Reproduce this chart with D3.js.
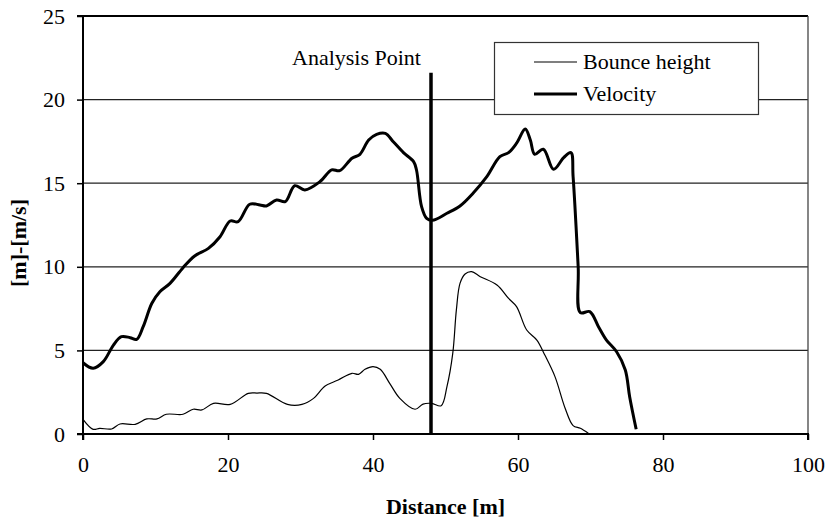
<!DOCTYPE html>
<html><head><meta charset="utf-8">
<script src="https://cdn.jsdelivr.net/npm/d3@7"></script>
<style>body{margin:0;background:#fff}svg{display:block}svg text{font-family:'Liberation Serif',Tinos,'Times New Roman',Times,'DejaVu Serif',serif !important;fill:#000}</style>
</head><body><svg id="c" width="830" height="525"></svg>
<script>
const velocityX = [0,1.4,2.8,4.2,5.3,6.5,7.4,8.3,9.5,10.6,12.0,13.8,15.4,17.3,18.9,20.3,21.4,23.0,24.4,25.3,26.7,27.9,29.2,30.6,32.7,34.3,35.4,37.1,38.2,39.4,40.5,41.7,42.8,44.2,45.6,46.0,46.7,47.4,48.2,50.2,52.0,53.8,55.7,57.5,58.7,59.8,61.0,61.7,62.3,63.5,64.9,66.3,67.3,67.6,68.3,68.6,69.9,71.1,72.2,73.6,74.8,75.4,76.3];
const velocityY = [4.26,3.93,4.33,5.32,5.82,5.76,5.66,6.42,7.82,8.51,9.01,9.95,10.65,11.1,11.8,12.74,12.7,13.74,13.7,13.64,14.0,13.9,14.85,14.6,15.1,15.8,15.75,16.49,16.73,17.58,17.92,17.98,17.48,16.83,16.29,15.79,13.6,12.9,12.78,13.2,13.64,14.4,15.39,16.59,16.83,17.39,18.24,17.58,16.73,17.03,15.83,16.53,16.83,15.39,10.0,7.26,7.32,6.42,5.62,4.92,3.83,2.23,0.28];
const bounceX = [0,1.4,2.3,3.95,5.1,7.2,8.8,10.2,11.5,13.8,15.2,16.4,18.0,20.3,22.8,24.0,25.3,28.2,30.2,31.8,33.4,35.2,37.1,38.0,38.9,40.0,41.0,42.3,43.7,45.8,46.9,48.1,49.4,50.2,51.0,51.5,52.0,52.7,53.6,54.8,57.1,58.7,59.8,61.2,62.6,63.7,65.1,66.5,67.6,68.6,69.7];
const bounceY = [0.88,0.28,0.34,0.30,0.6,0.58,0.9,0.9,1.18,1.18,1.48,1.44,1.83,1.77,2.43,2.45,2.43,1.77,1.77,2.13,2.87,3.23,3.63,3.57,3.87,4.03,3.87,3.03,2.13,1.48,1.79,1.83,1.69,2.83,4.82,7.42,9.01,9.57,9.71,9.41,8.91,8.11,7.62,6.22,5.62,4.72,3.43,1.54,0.5,0.34,0.04];
const xTicks = [0,20,40,60,80,100];
const yTicks = [0,5,10,15,20,25];
const seriesNames = ["Bounce height","Velocity"];
const analysisX = 48;
const analysisTop = 21.6;

const FONT = "'Liberation Serif',Tinos,'Times New Roman',Times,'DejaVu Serif',serif";
const svg = d3.select("#c");
const L=83,R=808,T=16,B=434;
const x = d3.scaleLinear().domain([0,100]).range([L,R]);
const y = d3.scaleLinear().domain([0,25]).range([B,T]);

svg.append("g").selectAll("line").data(yTicks.filter(d=>d>0)).join("line")
  .attr("x1",L).attr("x2",R).attr("y1",d=>y(d)).attr("y2",d=>y(d))
  .attr("stroke",d=>d===25?"#000":"#222").attr("stroke-width",d=>d===25?2:1.2);
svg.append("line").attr("x1",R).attr("x2",R).attr("y1",T).attr("y2",B).attr("stroke","#444").attr("stroke-width",1.3);

const yAxis = svg.append("g").attr("transform",`translate(${L},0)`)
  .call(d3.axisLeft(y).tickValues(yTicks).tickSize(6).tickPadding(12).tickFormat(d3.format("d")));
const xAxis = svg.append("g").attr("transform",`translate(0,${B})`)
  .call(d3.axisBottom(x).tickValues(xTicks).tickSize(6).tickPadding(16).tickFormat(d3.format("d")));
[yAxis,xAxis].forEach(g=>{
  g.attr("font-family",FONT).attr("font-size",22);
  g.select(".domain").attr("stroke","#000").attr("stroke-width",2);
  g.selectAll(".tick line").attr("stroke","#000").attr("stroke-width",1.5);
  g.selectAll("text").attr("font-size",22).attr("fill","#000");
});
yAxis.select(".domain").attr("d",`M-6,${B}H0V${T}H-6`);
xAxis.select(".domain").attr("d",`M${L},6V0H${R}V6`);

const line = d3.line().x(d=>x(d[0])).y(d=>y(d[1])).curve(d3.curveCatmullRom.alpha(0.5));
svg.append("path").datum(bounceX.map((v,i)=>[v,bounceY[i]]))
  .attr("d",line).attr("fill","none").attr("stroke","#000").attr("stroke-width",1.2);
svg.append("path").datum(velocityX.map((v,i)=>[v,velocityY[i]]))
  .attr("d",line).attr("fill","none").attr("stroke","#000").attr("stroke-width",3).attr("stroke-linejoin","round");

svg.append("line").attr("x1",x(analysisX)).attr("x2",x(analysisX)).attr("y1",y(analysisTop)).attr("y2",B)
  .attr("stroke","#000").attr("stroke-width",3.5);
svg.append("text").attr("x",292).attr("y",65).attr("font-size",22).text("Analysis Point");

const lg = svg.append("g");
lg.append("rect").attr("x",494.5).attr("y",42.5).attr("width",264).attr("height",72).attr("fill","#fff").attr("stroke","#333").attr("stroke-width",1.2);
const lgY=[62,94], lgW=[1.2,3];
seriesNames.forEach((n,i)=>{
  lg.append("line").attr("x1",534).attr("x2",577).attr("y1",lgY[i]).attr("y2",lgY[i]).attr("stroke","#000").attr("stroke-width",lgW[i]);
  lg.append("text").attr("x",583).attr("y",lgY[i]+7).attr("font-size",22).text(n);
});

svg.append("text").attr("x",(L+R)/2).attr("y",514).attr("text-anchor","middle").attr("font-size",22).attr("font-weight","bold").text("Distance [m]");
svg.append("text").attr("transform","translate(26,243) rotate(-90)").attr("text-anchor","middle").attr("font-size",22).attr("font-weight","bold").text("[m]-[m/s]");
svg.selectAll("text").attr("font-family",FONT);
</script></body></html>
